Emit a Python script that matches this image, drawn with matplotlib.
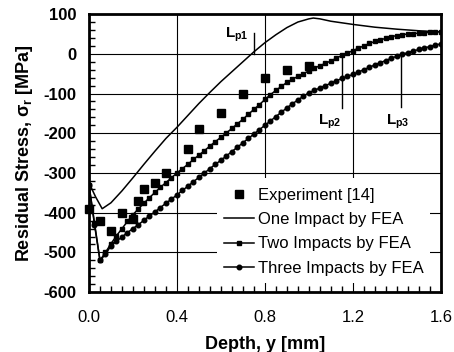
import matplotlib
matplotlib.use("Agg")
import matplotlib.pyplot as plt
from matplotlib.ticker import MultipleLocator
from matplotlib.patches import Rectangle

plt.rcParams['font.family'] = ['Liberation Sans', 'DejaVu Sans']

# Experimental data [14]
exp_x = [0.0, 0.05, 0.10, 0.15, 0.20, 0.225, 0.25, 0.30, 0.35, 0.45, 0.50, 0.60, 0.70, 0.80, 0.90, 1.00]
exp_y = [-390, -420, -445, -400, -415, -370, -340, -325, -300, -240, -190, -150, -100, -60, -40, -30]

# One impact by FEA
one_x = [0.0, 0.03, 0.06, 0.10, 0.15, 0.20, 0.25, 0.30, 0.35, 0.40, 0.45, 0.50, 0.55, 0.60, 0.65,
         0.70, 0.75, 0.80, 0.85, 0.90, 0.95, 1.00, 1.02, 1.05, 1.10, 1.20, 1.30, 1.40, 1.50, 1.60]
one_y = [-325, -360, -390, -375, -345, -312, -278, -245, -213, -185, -155, -125, -97, -70, -45,
         -20, 5, 28, 48, 66, 80, 88, 90, 88, 82, 74, 67, 62, 58, 55]

# Two and three impacts by FEA (node depths)
fea_x = [0.000, 0.025, 0.050, 0.075, 0.100, 0.125, 0.150, 0.175, 0.200, 0.225, 0.250, 0.275,
         0.300, 0.325, 0.350, 0.375, 0.400, 0.425, 0.450, 0.475, 0.500, 0.525, 0.550, 0.575,
         0.600, 0.625, 0.650, 0.675, 0.700, 0.725, 0.750, 0.775, 0.800, 0.825, 0.850, 0.875,
         0.900, 0.925, 0.950, 0.975, 1.000, 1.025, 1.050, 1.075, 1.100, 1.125, 1.150, 1.175,
         1.200, 1.225, 1.250, 1.275, 1.300, 1.325, 1.350, 1.375, 1.400, 1.425, 1.450, 1.475,
         1.500, 1.525, 1.550, 1.575, 1.600]
two_y = [-330, -425, -520, -500, -478, -458, -440, -422, -405, -390, -376, -362,
         -349, -336, -324, -312, -300, -289, -278, -266, -255, -244, -232, -221,
         -210, -199, -188, -176, -165, -152, -140, -128, -115, -103, -92, -82,
         -72, -64, -57, -50, -43, -36, -30, -24, -18, -11, -4, 2,
         8, 14, 20, 26, 31, 35, 39, 43, 46, 48, 50, 51,
         52, 53, 54, 55, 56]
three_y = [-330, -430, -520, -505, -483, -472, -461, -450, -440, -430, -419, -408,
           -398, -387, -376, -366, -355, -344, -333, -322, -311, -300, -289, -278,
           -268, -257, -246, -235, -224, -213, -202, -191, -180, -169, -158, -147,
           -136, -126, -116, -107, -98, -92, -86, -80, -74, -68, -62, -57,
           -52, -46, -40, -34, -28, -22, -17, -11, -6, -1, 3, 7,
           11, 15, 18, 22, 25]

# Penetration depth markers
lp_x = [0.75, 1.15, 1.42]
lp_y0 = [0, 0, 0]
lp_y1 = [52, -137, -135]
lp_lab_x = [0.62, 1.04, 1.35]
lp_lab_y = [48, -170, -170]
lp_labels = ['L$_\\mathregular{p1}$', 'L$_\\mathregular{p2}$', 'L$_\\mathregular{p3}$']

fig = plt.figure(figsize=(4.54, 3.52), dpi=100)
ax = fig.add_axes([0.196, 0.170, 0.775, 0.790])

ax.set_xlim(0, 1.6)
ax.set_ylim(-600, 100)
ax.xaxis.set_minor_locator(MultipleLocator(0.05))
ax.yaxis.set_minor_locator(MultipleLocator(20))
ax.set_xticks([0, 0.4, 0.8, 1.2, 1.6])
ax.set_xticklabels(['0.0', '0.4', '0.8', '1.2', '1.6'])
ax.set_yticks([100, 0, -100, -200, -300, -400, -500, -600])
ax.set_yticklabels(['100', '0', '-100', '-200', '-300', '-400', '-500', '-600'], fontweight='bold')
ax.grid(True, which='major', color='black', linewidth=0.8)
ax.set_axisbelow(True)

# white box behind the legend (hides the grid there)
ax.add_patch(Rectangle((0.364, 0.032), 0.605, 0.378, transform=ax.transAxes,
                       facecolor='white', edgecolor='none', zorder=1.5))

ax.plot(exp_x, exp_y, linestyle='none', marker='s', markersize=5.5, color='black',
        label='Experiment [14]', zorder=4, clip_on=False)
ax.plot(one_x, one_y, '-', color='black', linewidth=1.1, label='One Impact by FEA', zorder=3)
ax.plot(fea_x, two_y, '-', color='black', linewidth=1.1, marker='s', markersize=3.3,
        label='Two Impacts by FEA', zorder=3)
ax.plot(fea_x, three_y, '-', color='black', linewidth=1.1, marker='o', markersize=3.3,
        label='Three Impacts by FEA', zorder=3)

for x, y0, y1, lx, ly, lab in zip(lp_x, lp_y0, lp_y1, lp_lab_x, lp_lab_y, lp_labels):
    ax.plot([x, x], [y0, y1], color='black', linewidth=1.0, zorder=3)
    ax.text(lx, ly, lab, fontsize=11, fontweight='bold', ha='left', va='center', zorder=4)

leg = ax.legend(loc='upper left', bbox_to_anchor=(0.369, 0.392), frameon=False, fontsize=12,
                handlelength=1.8, handletextpad=0.25, labelspacing=0.55, borderpad=0.3,
                borderaxespad=0.0)
leg.set_zorder(5)

for s in ax.spines.values():
    s.set_linewidth(2.0)
    s.set_zorder(6)

ax.tick_params(which='both', direction='in', right=False, top=False, width=1.0)
ax.tick_params(axis='x', which='major', length=0, labelsize=12, pad=13)
ax.tick_params(axis='y', which='major', length=0, labelsize=12, pad=9)
ax.tick_params(which='minor', length=4)

ax.set_xlabel('Depth, y [mm]', fontsize=13, fontweight='bold', labelpad=8)
ax.set_ylabel('Residual Stress, σ$_\\mathregular{r}$ [MPa]', fontsize=13, fontweight='bold', labelpad=6)

fig.savefig('out.png', dpi=100)
